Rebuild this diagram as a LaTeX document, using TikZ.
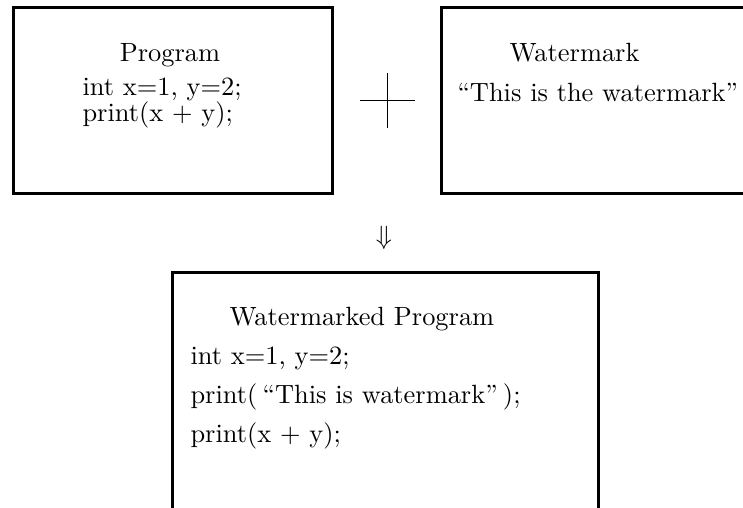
\documentclass[tikz,border=0pt]{standalone}
\usepackage{amsmath,amssymb}
\usetikzlibrary{positioning}
\tikzset{
  box/.style={draw,line width=1pt,minimum width=120.8pt,minimum height=70.5pt,inner sep=0pt},
  txt/.style={anchor=base west,inner sep=0pt},
  hd/.style={anchor=base,inner sep=0pt}
}

\begin{document}
\begin{tikzpicture}[x=0.3788pt,y=-0.3788pt,node distance=10pt]
 \useasboundingbox (0,0) rectangle (743,508);
 \clip (0,0) rectangle (743,508);
 \node[box,anchor=north west] (prog) at (12,6) {};
 \node[inner sep=0pt,minimum size=20.5pt,right=of prog] (plus) {};
 \draw (plus.west) -- (plus.east); \draw (plus.north) -- (plus.south);
 \node[box,right=9.5pt of plus] (wm) {};
 \node (down) at (384,238) {$\Downarrow$};
 \node[box,anchor=north west,minimum width=161.4pt,minimum height=100pt] (wprog) at (171,271) {};
 % box texts
 \node[hd] (progtitle) at (170,62) {Program};
 \node[txt] (prog1) at (82,96) {int x=1, y=2;};
 \node[txt] (prog2) at (82,122) {print(x + y);};
 \node[txt] (wmtitle) at (509,62) {Watermark};
 \node[txt] (wm1) at (457,102) {``This is the watermark''};
 \node[txt] (wptitle) at (229,326) {Watermarked Program};
 \node[txt] (wp1) at (190,365) {int x=1, y=2;};
 \node[txt] (wp2) at (190,404) {print(\hspace{2pt}``This is watermark''\hspace{2pt});};
 \node[txt] (wp3) at (190,443) {print(x + y);};
\end{tikzpicture}
\end{document}
